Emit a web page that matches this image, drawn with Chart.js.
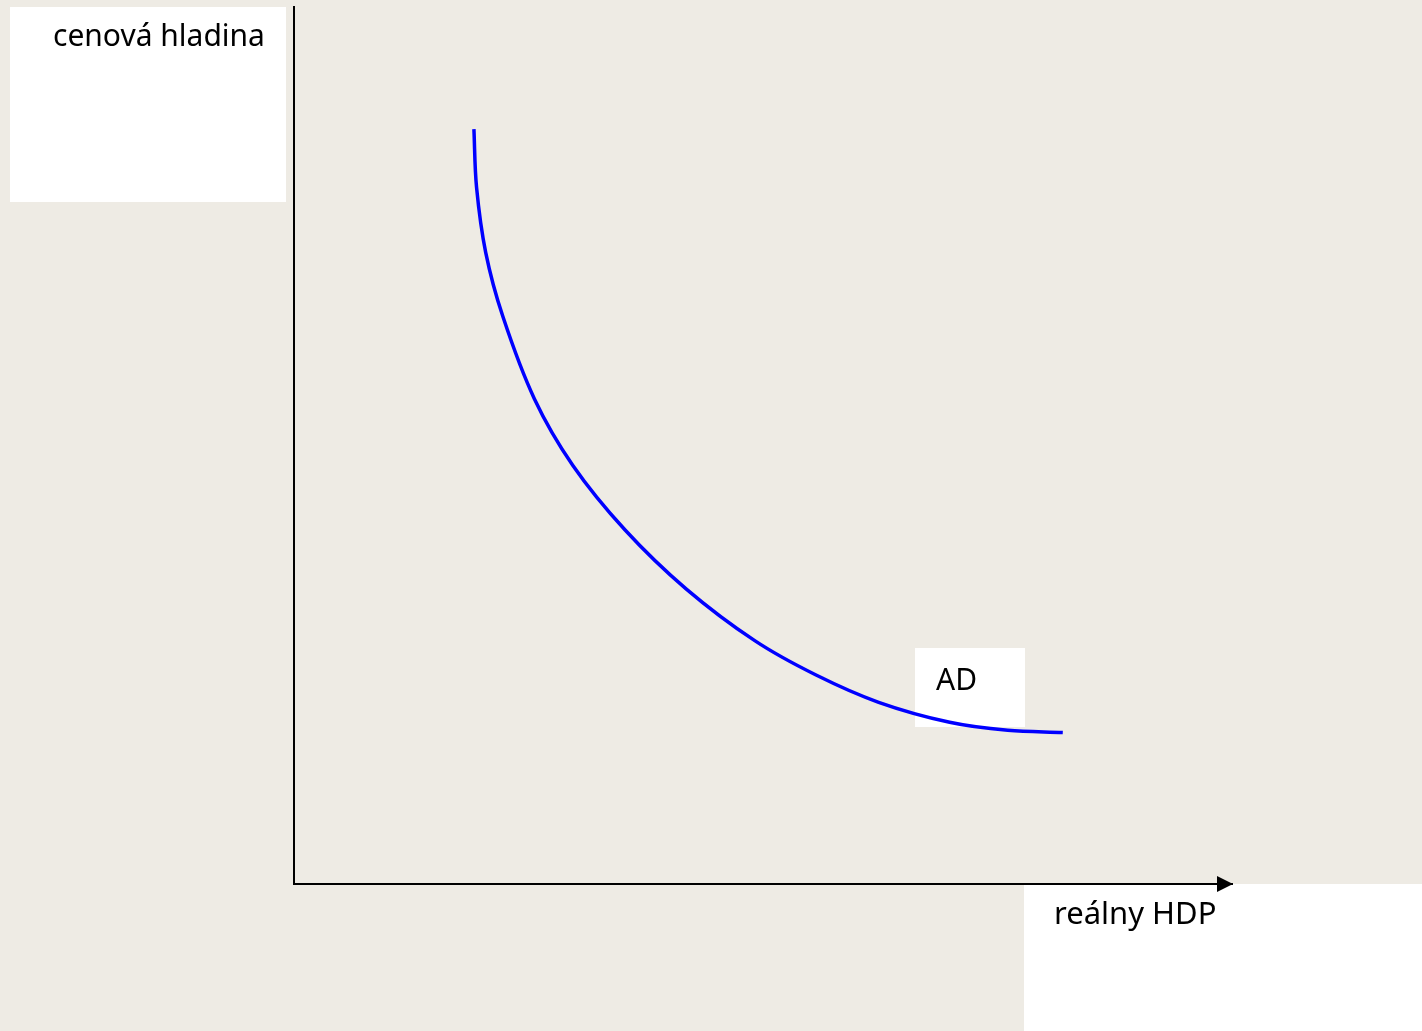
<!DOCTYPE html>
<html><head><meta charset="utf-8">
<script src="https://cdn.jsdelivr.net/npm/chart.js@4"></script>
<style>html,body{margin:0;padding:0;background:#EEEBE4;}canvas{display:block;}</style>
</head><body>
<canvas id="c" width="1422" height="1031"></canvas>
<script>
const categories = ["AD"];
const adX = [19.18, 19.46, 20.44, 22.26, 25.62, 29.73, 35.30, 41.83, 49.16, 55.60, 62.33, 69.90, 76.09, 81.96];
const adY = [86.07, 79.46, 72.00, 64.73, 55.34, 47.73, 40.37, 33.63, 27.72, 23.86, 20.72, 18.44, 17.52, 17.27];
const axisTitles = { x: "reálny HDP", y: "cenová hladina" };

const FONT = '"Noto Sans", "DejaVu Sans", sans-serif';

const decor = {
  id: 'decor',
  beforeDraw(chart) {
    const ctx = chart.ctx;
    ctx.save();
    ctx.fillStyle = '#EEEBE4';
    ctx.fillRect(0, 0, chart.width, chart.height);
    ctx.fillStyle = '#FFFFFF';
    ctx.fillRect(10, 7, 276, 195);
    ctx.fillRect(1024, 884, 398, 147);
    ctx.fillRect(915, 648, 110, 79);
    ctx.restore();
  },
  afterDraw(chart) {
    const ctx = chart.ctx;
    const xs = chart.scales.x, ys = chart.scales.y;
    ctx.save();
    const yb = ys.bottom;
    ctx.fillStyle = '#000';
    ctx.beginPath();
    ctx.moveTo(xs.right + 1, yb);
    ctx.lineTo(xs.right - 15, yb - 8);
    ctx.lineTo(xs.right - 15, yb + 8);
    ctx.closePath();
    ctx.fill();
    ctx.fillStyle = '#000';
    ctx.textBaseline = 'alphabetic';
    ctx.textAlign = 'left';
    ctx.font = '30px ' + FONT;
    ctx.fillText(axisTitles.y, 53, 46);
    ctx.font = '31px ' + FONT;
    ctx.fillText(axisTitles.x, 1054, 924);
    ctx.font = '30px ' + FONT;
    ctx.fillText(categories[0], 936, 690);
    ctx.restore();
  }
};

new Chart(document.getElementById('c'), {
  type: 'line',
  data: {
    datasets: [{
      label: categories[0],
      data: adX.map((x, i) => ({ x, y: adY[i] })),
      borderColor: '#0000FF',
      borderWidth: 3.5,
      pointRadius: 0,
      fill: false,
      tension: 0.35
    }]
  },
  options: {
    responsive: false,
    animation: false,
    layout: { padding: { left: 294, top: 7, right: 190, bottom: 147 } },
    plugins: { legend: { display: false }, tooltip: { enabled: false } },
    scales: {
      x: { type: 'linear', min: 0, max: 100,
           grid: { display: false, drawTicks: false },
           border: { display: true, color: '#000', width: 2 },
           ticks: { display: false } },
      y: { type: 'linear', min: 0, max: 100,
           grid: { display: false, drawTicks: false },
           border: { display: true, color: '#000', width: 2 },
           ticks: { display: false } }
    }
  },
  plugins: [decor]
});
</script>
</body></html>
